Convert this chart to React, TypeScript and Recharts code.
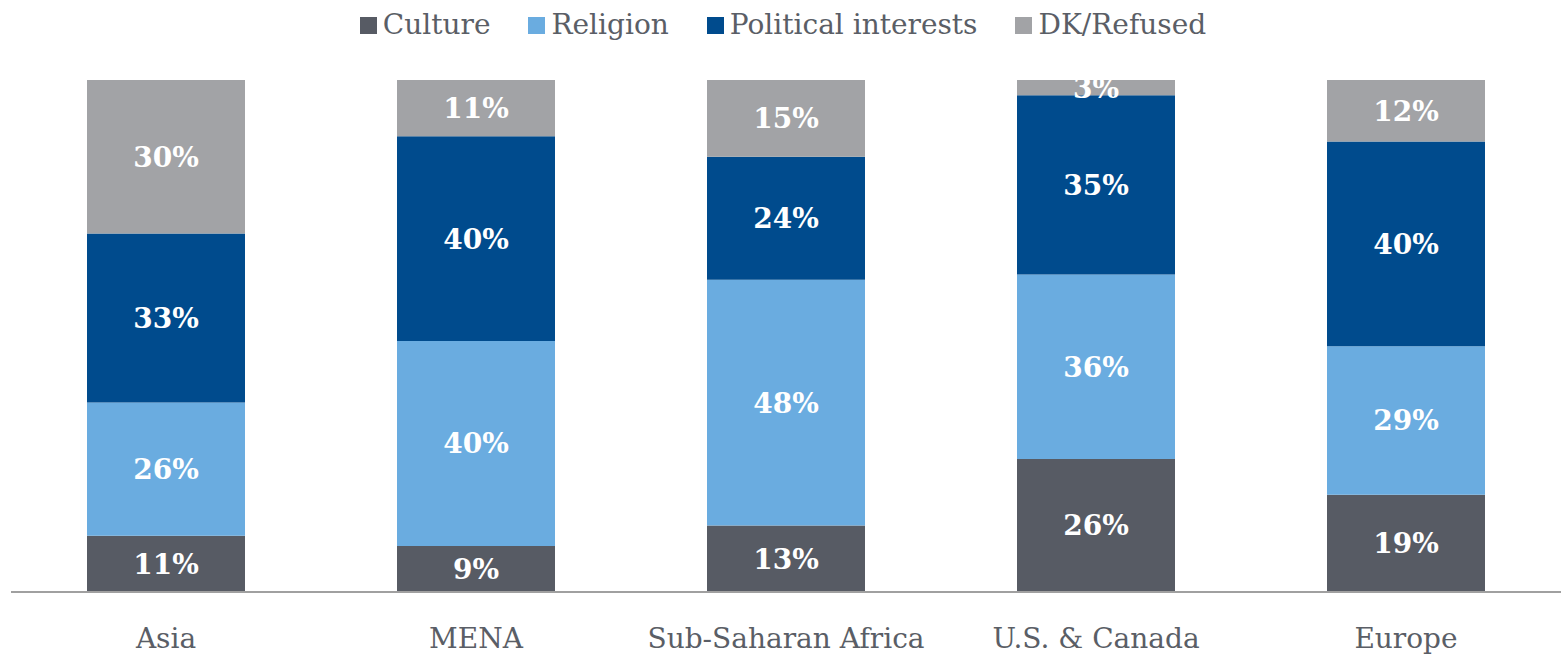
import React from 'react';
import { BarChart, Bar, XAxis, YAxis, LabelList } from 'recharts';

const regions = ['Asia', 'MENA', 'Sub-Saharan Africa', 'U.S. & Canada', 'Europe'];
const culture = [11, 9, 13, 26, 19];
const religion = [26, 40, 48, 36, 29];
const political = [33, 40, 24, 35, 40];
const dkRefused = [30, 11, 15, 3, 12];

const seriesDefs = [
  { key: 'culture', name: 'Culture', color: '#575b64' },
  { key: 'religion', name: 'Religion', color: '#6aace0' },
  { key: 'political', name: 'Political interests', color: '#004b8d' },
  { key: 'dk', name: 'DK/Refused', color: '#a2a3a6' },
];

const data = regions.map((region, i) => ({
  region,
  culture: culture[i],
  religion: religion[i],
  political: political[i],
  dk: dkRefused[i],
}));

const FONT = '"DejaVu Serif", Georgia, serif';
const TEXT_GRAY = '#5a5e66';

// legend sits above the plot, outside recharts' layout so it doesn't push the bars down
function TopLegend() {
  return (
    <div
      style={{
        position: 'absolute', top: 8, left: 0, width: 1566,
        display: 'flex', justifyContent: 'center', gap: 38,
        fontFamily: FONT, fontSize: 28, color: TEXT_GRAY, lineHeight: '34px',
      }}
    >
      {seriesDefs.map((s) => (
        <div key={s.key} style={{ display: 'flex', alignItems: 'center', gap: 6 }}>
          <span style={{ width: 17, height: 17, background: s.color, display: 'inline-block' }} />
          <span>{s.name}</span>
        </div>
      ))}
    </div>
  );
}

const pct = (v: any) => `${v}%`;

export default function App() {
  return (
    <div style={{ position: 'absolute', left: 0, top: 0, width: 1566, height: 656, background: '#fff' }}>
      <BarChart
        width={1566}
        height={656}
        data={data}
        margin={{ top: 80, right: 5, left: 11, bottom: 0 }}
        barSize={158}
      >
        <XAxis
          dataKey="region"
          axisLine={{ stroke: '#a0a0a0', strokeWidth: 2 }}
          tickLine={false}
          height={64}
          tick={{ fill: TEXT_GRAY, fontSize: 28, fontFamily: FONT }}
          dy={28}
          interval={0}
        />
        <YAxis hide domain={[0, 100]} />
        {seriesDefs.map((s) => (
          <Bar key={s.key} dataKey={s.key} name={s.name} stackId="a" fill={s.color} isAnimationActive={false}>
            <LabelList
              dataKey={s.key}
              position="center"
              formatter={pct}
              fill="#ffffff"
              style={{ fontFamily: FONT, fontSize: 28, fontWeight: 700 }}
            />
          </Bar>
        ))}
      </BarChart>
      <TopLegend />
    </div>
  );
}
